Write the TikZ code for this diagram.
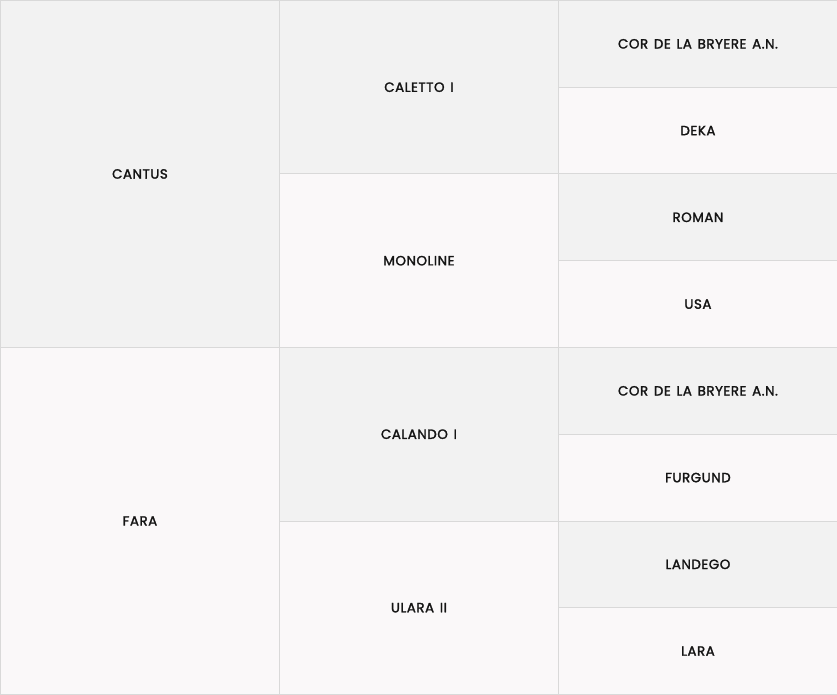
\documentclass[tikz,border=0pt]{standalone}
\usepackage{fontspec}
\setmainfont{Poppins}
\newfontfamily\namefont{Poppins}[FakeBold=1.8, LetterSpace=4, WordSpace=1.4]
\usepackage{xcolor}
\definecolor{cellgray}{HTML}{F2F2F2}
\definecolor{cellwhite}{HTML}{FAF8F9}
\definecolor{cellline}{HTML}{D9D9D9}
\definecolor{nametext}{HTML}{141414}

\begin{document}
\begin{tikzpicture}[x=1pt, y=1pt,
    cell/.style={draw=cellline, line width=0.9pt, anchor=north west, inner sep=0pt,
      font=\namefont\fontsize{13.4}{15}\selectfont, text=nametext},
    dark/.style={cell, fill=cellgray},
    light/.style={cell, fill=cellwhite}]
    \useasboundingbox (0,0) rectangle (837,694);
    % parents
    \node [dark, minimum width=279pt, minimum height=347pt] (sire) at (0,694) {CANTUS};
    \node [light, minimum width=279pt, minimum height=347pt] (dam) at (0,347) {FARA};
    % grandparents
    \def\w{279};
    \def\h{173.5};
    \foreach \name [count=\i from 0] in {CALETTO I, MONOLINE, CALANDO I, ULARA II}
    {
      \pgfmathsetmacro\top{694-\h*\i}
      \ifodd\i
        \node [light, minimum width=\w pt, minimum height=\h pt] (gp\i) at (279,\top) {\name};
      \else
        \node [dark, minimum width=\w pt, minimum height=\h pt] (gp\i) at (279,\top) {\name};
      \fi
    }
    % great-grandparents
    \def\g{86.75};
    \foreach \name [count=\j from 0] in {COR DE LA BRYERE A.N., DEKA, ROMAN, USA,
      COR DE LA BRYERE A.N., FURGUND, LANDEGO, LARA}
    {
      \pgfmathsetmacro\top{694-\g*\j}
      \ifodd\j
        \node [light, minimum width=\w pt, minimum height=\g pt] (ggp\j) at (558,\top) {\name};
      \else
        \node [dark, minimum width=\w pt, minimum height=\g pt] (ggp\j) at (558,\top) {\name};
      \fi
    }
\end{tikzpicture}
\end{document}
